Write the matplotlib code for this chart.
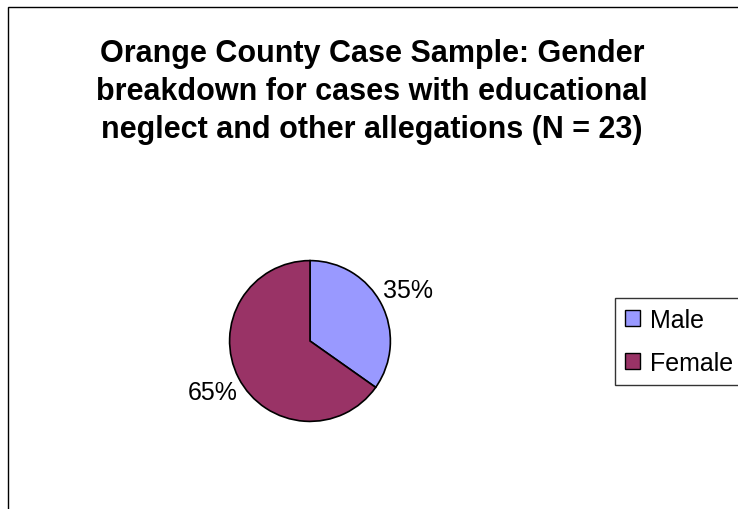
import matplotlib
matplotlib.use('Agg')
import matplotlib.pyplot as plt
from matplotlib.patches import Rectangle, Patch

plt.rcParams['font.family'] = ['Liberation Sans', 'DejaVu Sans']

TITLE = "Orange County Case Sample: Gender\nbreakdown for cases with educational\nneglect and other allegations (N = 23)"
labels = ["Male", "Female"]
counts = [8, 15]
colors = ["#9999FF", "#993366"]

W, H = 738, 510
fig = plt.figure(figsize=(W / 100, H / 100), dpi=100)
fig.patch.set_facecolor("white")

# outer chart border (right/bottom edges run off the image)
fig.patches.append(Rectangle((8 / W, -0.1), 1.2, (H - 8) / H + 0.1,
                             transform=fig.transFigure, fill=False,
                             edgecolor="black", linewidth=1.0))

fig.text(372 / W, (H - 39) / H, TITLE, ha="center", va="top",
         fontsize=22, fontweight="bold", linespacing=1.34)

# pie
cx, cy, r = 310, 342, 82
ax = fig.add_axes([(cx - r) / W, (H - cy - r) / H, 2 * r / W, 2 * r / H])
wedges, texts, autotexts = ax.pie(
    counts, colors=colors, startangle=90, counterclock=False,
    autopct="%1.0f%%", pctdistance=1.37,
    wedgeprops=dict(edgecolor="black", linewidth=1.2),
    textprops=dict(fontsize=18))
ax.set_xlim(-1.02, 1.02)
ax.set_ylim(-1.02, 1.02)
ax.set_aspect("equal")
ax.axis("off")

handles = [Patch(facecolor=c, edgecolor="black", linewidth=1.0) for c in colors]
leg = fig.legend(handles, labels, loc="upper left",
                 bbox_to_anchor=(615 / W, (H - 299) / H),
                 fontsize=18, frameon=True, fancybox=False,
                 handlelength=0.6, handleheight=0.6, handletextpad=0.4,
                 labelspacing=0.75, borderpad=0.4, borderaxespad=0)
leg.get_frame().set_edgecolor("black")
leg.get_frame().set_linewidth(1.0)

fig.savefig("out.png", dpi=100)
